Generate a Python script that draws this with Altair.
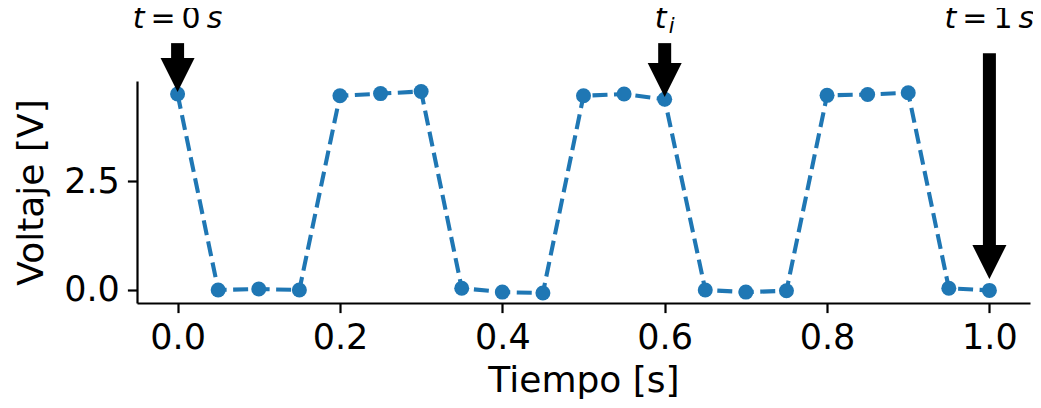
import altair as alt
import pandas as pd

# ---- data ----
tiempo = [0.00, 0.05, 0.10, 0.15, 0.20, 0.25, 0.30, 0.35, 0.40, 0.45, 0.50,
          0.55, 0.60, 0.65, 0.70, 0.75, 0.80, 0.85, 0.90, 0.95, 1.00]
voltaje = [4.50, 0.00, 0.02, 0.00, 4.46, 4.51, 4.56, 0.04, -0.05, -0.07, 4.46,
           4.50, 4.38, 0.00, -0.05, -0.02, 4.47, 4.49, 4.53, 0.04, -0.01]

# annotations (arrows pointing at samples)
ann_x = [0.0, 0.6, 1.0]
ann_tail = [5.67, 5.67, 5.44]   # arrow start (voltage units)
ann_tip = [4.55, 4.43, 0.25]    # arrow tip (voltage units)
ann_text_y = 6.01
# "t = 0 s" / "t = 1 s" labels, split into italic and upright parts
eq_x = [0.0, 1.0]
eq_var = ["t", "t"]
eq_mid = ["=\u20090", "=\u20091"]
eq_unit = ["s", "s"]
# "t_i" label
ti_x = [0.6]
ti_var = ["t"]
ti_sub = ["i"]

x_ticks = [0.0, 0.2, 0.4, 0.6, 0.8, 1.0]
y_ticks = [0.0, 2.5]

BLUE = "#1f77b4"
FONT = "DejaVu Sans"

df = pd.DataFrame({"t": tiempo, "v": voltaje})
ann = pd.DataFrame({"x": ann_x, "tail": ann_tail, "tip": ann_tip})
ann["shaft_end"] = ann["tip"] + 0.7
eq = pd.DataFrame({"x": eq_x, "var": eq_var, "mid": eq_mid, "unit": eq_unit,
                   "ty": ann_text_y})
ti = pd.DataFrame({"x": ti_x, "var": ti_var, "sub": ti_sub, "ty": ann_text_y})

xs = alt.Scale(domain=[-0.05, 1.05], nice=False, zero=False)
ys = alt.Scale(domain=[-0.30, 4.80], nice=False, zero=False)

xaxis = alt.Axis(title="Tiempo [s]", values=x_ticks, format=".1f",
                 titleY=88, titleBaseline="alphabetic", labelPadding=8,
                 labelFlush=False)
yaxis = alt.Axis(title="Voltaje [V]", values=y_ticks, format=".1f",
                 titleAngle=270, titleX=-95, titleY=111, titleAlign="center",
                 titleBaseline="alphabetic", labelPadding=8)

base = alt.Chart(df)
line = base.mark_line(color=BLUE, strokeWidth=4.1, strokeDash=[15, 6.5]).encode(
    x=alt.X("t:Q", scale=xs, axis=xaxis),
    y=alt.Y("v:Q", scale=ys, axis=yaxis),
)
pts = base.mark_circle(color=BLUE, size=225, opacity=1).encode(
    x=alt.X("t:Q", scale=xs),
    y=alt.Y("v:Q", scale=ys),
)

a = alt.Chart(ann)
shaft = a.mark_rule(color="black", strokeWidth=13, strokeCap="butt").encode(
    x=alt.X("x:Q", scale=xs),
    y=alt.Y("tail:Q", scale=ys),
    y2="shaft_end:Q",
)
head = a.mark_point(shape="M-1,-2L1,-2L0,0Z", size=1156, filled=True,
                    fill="black", color="black", strokeWidth=0, opacity=1).encode(
    x=alt.X("x:Q", scale=xs),
    y=alt.Y("tip:Q", scale=ys),
)


def txt(data, field, dx, dy=0, size=30, italic=True):
    kw = dict(font=FONT, fontSize=size, color="black", baseline="alphabetic",
              align="center", dx=dx, dy=dy)
    if italic:
        kw["fontStyle"] = "italic"
    return alt.Chart(data).mark_text(**kw).encode(
        x=alt.X("x:Q", scale=xs),
        y=alt.Y("ty:Q", scale=ys),
        text=f"{field}:N",
    )


eq_t = txt(eq, "var", dx=-39)
eq_m = txt(eq, "mid", dx=-2, italic=False)
eq_s = txt(eq, "unit", dx=37)
ti_t = txt(ti, "var", dx=-4)
ti_i = txt(ti, "sub", dx=7, dy=5, size=21)

chart = alt.layer(line, pts, shaft, head, eq_t, eq_m, eq_s, ti_t, ti_i).properties(
    width=893, height=222,
    padding={"left": 129, "top": 73, "right": 3, "bottom": 97},
    autosize=alt.AutoSizeParams(type="none"),
).configure_view(stroke=None).configure_axis(
    grid=False, domainColor="black", domainWidth=2.2, tickColor="black",
    tickWidth=2.2, tickSize=9.6, labelFont=FONT, titleFont=FONT,
    labelFontSize=35, titleFontSize=36, labelColor="black", titleColor="black",
    titleFontWeight="normal",
)

chart.save("out.html", embed_options={"renderer": "svg", "actions": False})
